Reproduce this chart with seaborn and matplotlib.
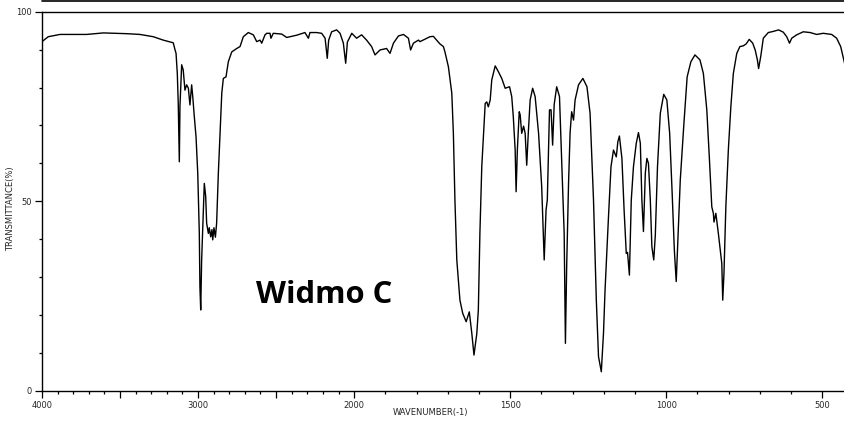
import numpy as np
import pandas as pd
import matplotlib
matplotlib.use("Agg")
import matplotlib.pyplot as plt
from matplotlib.lines import Line2D
import seaborn as sns

# ---- data ----
wavenumber = [4000, 3960, 3885, 3800, 3714, 3607, 3457, 3372, 3287, 3223, 3169, 3159, 3148, 3141,
              3133, 3127, 3120, 3116, 3105, 3095, 3084, 3073, 3062, 3052, 3041, 3034, 3024, 3013,
              3002, 2992, 2988, 2983, 2977, 2966, 2960, 2951, 2945, 2934, 2928, 2919, 2911, 2906,
              2898, 2889, 2881, 2870, 2859, 2848, 2838, 2821, 2806, 2784, 2752, 2731, 2710, 2678,
              2646, 2624, 2603, 2592, 2571, 2560, 2539, 2533, 2518, 2464, 2432, 2368, 2315, 2293,
              2283, 2240, 2208, 2186, 2172, 2163, 2144, 2112, 2090, 2069, 2054, 2043, 2015, 1992,
              1976, 1960, 1944, 1933, 1917, 1896, 1885, 1874, 1858, 1842, 1826, 1819, 1810, 1794,
              1789, 1767, 1757, 1746, 1741, 1725, 1714, 1709, 1698, 1687, 1682, 1677, 1671, 1661,
              1652, 1641, 1631, 1623, 1616, 1607, 1602, 1597, 1591, 1580, 1575, 1570, 1564, 1559,
              1548, 1538, 1527, 1516, 1502, 1495, 1490, 1484, 1481, 1477, 1471, 1468, 1463, 1457,
              1452, 1447, 1442, 1436, 1428, 1420, 1409, 1399, 1391, 1385, 1381, 1374, 1369, 1364,
              1359, 1351, 1342, 1335, 1327, 1323, 1319, 1313, 1308, 1303, 1297, 1292, 1281, 1267,
              1254, 1244, 1233, 1224, 1217, 1208, 1201, 1196, 1185, 1177, 1169, 1160, 1155, 1150,
              1142, 1135, 1128, 1124, 1118, 1112, 1105, 1096, 1089, 1083, 1078, 1073, 1067, 1062,
              1057, 1051, 1046, 1040, 1035, 1028, 1019, 1008, 998, 989, 981, 974, 968, 962,
              955, 944, 933, 921, 908, 892, 881, 870, 862, 854, 849, 847, 841, 833,
              822, 819, 815, 809, 801, 793, 785, 774, 764, 753, 744, 734, 723, 715,
              708, 704, 697, 689, 673, 657, 640, 625, 614, 605, 598, 582, 561, 539,
              518, 497, 470, 454, 441, 430, 415, 400]

transmittance = [92.1, 93.4, 94.0, 94.0, 94.0, 94.4, 94.2, 94.0, 93.4, 92.5, 91.9, 91.8, 90.0, 89.0,
                 83.7, 75.9, 60.4, 75.0, 86.0, 84.6, 79.3, 80.7, 79.8, 75.4, 80.7, 77.6, 72.3, 67.0,
                 57.4, 41.6, 27.4, 21.3, 34.5, 47.7, 54.7, 51.2, 44.2, 41.5, 43.0, 40.6, 42.5, 39.8,
                 43.0, 40.5, 44.2, 57.4, 67.9, 78.5, 82.4, 82.8, 86.8, 89.4, 90.3, 90.8, 93.4, 94.5,
                 93.9, 92.1, 92.5, 91.7, 93.9, 94.3, 94.3, 93.0, 94.3, 94.1, 93.2, 93.8, 94.5, 93.0,
                 94.5, 94.5, 94.3, 93.0, 87.7, 92.5, 94.7, 95.2, 94.3, 91.7, 86.4, 92.0, 94.3, 93.0,
                 93.9, 92.5, 90.8, 88.6, 89.9, 90.3, 89.0, 91.7, 93.6, 94.0, 93.0, 89.9, 91.7, 92.5,
                 92.1, 93.0, 93.4, 93.5, 93.0, 91.5, 90.8, 89.4, 85.5, 78.5, 67.9, 50.3, 34.5, 23.9,
                 20.4, 18.2, 20.8, 15.2, 9.4, 15.0, 21.3, 41.5, 59.1, 75.8, 76.2, 74.9, 76.7, 82.0,
                 85.7, 84.2, 82.4, 79.8, 80.2, 77.6, 72.3, 63.5, 52.5, 63.5, 73.6, 72.8, 67.9, 69.8,
                 67.9, 59.5, 67.9, 76.7, 79.8, 77.6, 67.9, 53.8, 34.5, 47.7, 50.3, 74.1, 74.1, 64.8,
                 75.5, 80.2, 77.6, 60.9, 41.5, 12.5, 32.7, 54.7, 68.1, 73.6, 71.4, 76.7, 80.7, 82.4,
                 80.2, 73.2, 50.3, 23.9, 9.0, 5.0, 15.2, 26.6, 45.9, 59.1, 63.5, 61.7, 65.7, 67.2,
                 61.3, 47.7, 36.2, 36.5, 30.5, 50.3, 59.1, 65.3, 68.1, 65.3, 50.3, 42.0, 57.4, 61.3,
                 60.0, 50.3, 38.0, 34.5, 41.0, 59.1, 73.2, 78.2, 76.7, 67.9, 52.1, 37.1, 28.8, 41.0,
                 55.6, 69.7, 82.8, 86.8, 88.6, 87.3, 83.7, 74.1, 61.7, 48.5, 46.8, 44.5, 46.8, 41.5,
                 33.6, 23.9, 31.0, 48.5, 63.5, 74.9, 83.7, 89.0, 90.8, 91.0, 91.5, 92.7, 91.7, 89.9,
                 87.3, 85.0, 88.3, 93.0, 94.5, 94.8, 95.2, 94.6, 93.4, 91.7, 93.0, 93.9, 94.7, 94.5,
                 94.0, 94.3, 94.0, 93.0, 90.8, 86.8, 82.0, 80.0]

x_tick_labels = ["4000", "3000", "2000", "1500", "1000", "500"]
y_tick_labels = ["0", "50", "100"]
x_label = "WAVENUMBER(-1)"
y_label = "TRANSMITTANCE(%)"
title_text = "Widmo C"

df = pd.DataFrame({"wavenumber": wavenumber, "transmittance": transmittance})

sns.set_theme(style="white")
plt.rcParams["font.family"] = ["DejaVu Sans"]

fig = plt.figure(figsize=(8.45, 4.21), dpi=100)
ax = fig.add_axes([42 / 845, 30.3 / 421, 811.5 / 845, 379.0 / 421])


def fwd(w):
    w = np.asarray(w, dtype=float)
    return np.where(w >= 2000, w, 2 * w - 2000)


def inv(u):
    u = np.asarray(u, dtype=float)
    return np.where(u >= 2000, u, (u + 2000) / 2)


ax.set_xscale("function", functions=(fwd, inv))

sns.lineplot(data=df, x="wavenumber", y="transmittance", ax=ax, color="black",
             linewidth=1.0, estimator=None, sort=False)

ax.set_xlim(4000, 400)
ax.set_ylim(0, 100)

ax.set_xticks([float(t) for t in x_tick_labels] + [3500, 2500])
ax.set_xticklabels(x_tick_labels + ["", ""])
ax.set_xticks(np.arange(500, 4000, 100), minor=True)
ax.set_yticks([float(t) for t in y_tick_labels])
ax.set_yticklabels(y_tick_labels)
ax.set_yticks(np.arange(0, 101, 10), minor=True)

ax.tick_params(axis="both", which="major", direction="out", length=5, width=0.9,
               color="black", labelsize=6, pad=2.5, bottom=True, left=True)
ax.tick_params(axis="both", which="minor", direction="out", length=2.5, width=0.9,
               color="black", bottom=True, left=True)

for side in ["left", "bottom", "top"]:
    ax.spines[side].set_visible(True)
    ax.spines[side].set_color("black")
    ax.spines[side].set_linewidth(1.0)
ax.spines["right"].set_visible(False)

ax.set_xlabel(x_label, fontsize=6)
ax.xaxis.set_label_coords((430 - 42) / 811.5, -0.046)
ax.set_ylabel(y_label, fontsize=6)
ax.yaxis.set_label_coords(-0.033, 0.48)

ax.text(2629, 23.1, title_text, fontsize=22.3, fontweight="bold",
        family=["Open Sans", "DejaVu Sans"], ha="left", va="baseline", color="black")

fig.add_artist(Line2D([42 / 845, 1.0], [1 - 1.2 / 421, 1 - 1.2 / 421],
                      transform=fig.transFigure, color="black", linewidth=1.2))

fig.savefig("out.png", dpi=100, facecolor="white")
